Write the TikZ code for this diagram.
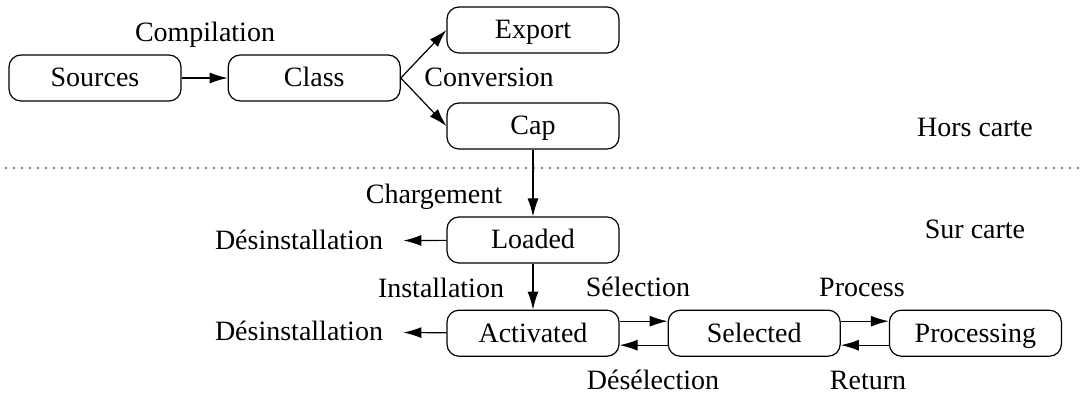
\documentclass[tikz,border=0pt]{standalone}
\usepackage{fontspec}
\setmainfont{Liberation Serif}
\usetikzlibrary{positioning,calc,arrows.meta}
\tikzset{etat/.style={draw, line width=0.6pt, rounded corners=6pt, minimum width=86pt, minimum height=23pt, inner sep=0pt, text height=9.5pt, text depth=0.5pt, font=\fontsize{14}{16}\selectfont}}
\tikzset{lbl/.style={inner sep=0pt, text height=9.5pt, text depth=0.5pt, font=\fontsize{14}{16}\selectfont}}
\tikzset{arr/.style={draw, line width=0.6pt, -{Latex[length=9pt,width=5.5pt]}}}
\tikzset{arrd/.style={arr, shorten >=10pt}}
\begin{document}
\begin{tikzpicture}[x=0.5pt,y=-0.5pt]
	\useasboundingbox (0,0) rectangle (1083,405);
	% hors carte
	\node[etat] (S) at (95,78) {Sources};
	\node[etat,right=23pt of S] (C) {Class};
	\node[etat] (E) at (533,30) {Export};
	\node[etat] (Cap) at (533,126) {Cap};
	\draw[arr] (S) -- (C);
	\draw[arr] (C.east) -- (E.west);
	\draw[arr] (C.east) -- (Cap.west);
	\node[lbl] (comp) at (205,33) {Compilation};
	\node[lbl] (conv) at (489,78) {Conversion};
	\node[lbl] (hors) at (975,128) {Hors carte};
	%
	\coordinate (sepA) at (5,168);
	\coordinate (sepB) at (1080,168);
	\draw[gray, line width=0.8pt, dash pattern=on 0.8pt off 3.2pt] (sepA) -- (sepB);
	% sur carte
	\node[lbl] (sur) at (975,230) {Sur carte};
	\node[etat] (L) at (533,240) {Loaded};
	\node[etat,below=23pt of L] (A) {Activated};
	\node[etat,right=24pt of A] (Sel) {Selected};
	\node[etat,right=24pt of Sel] (P) {Processing};
	\draw[arr] (Cap) -- (L);
	\draw[arr] (L) -- (A);
	\node[lbl] (charg) at (434,195) {Chargement};
	\node[lbl] (inst) at (441,289) {Installation};
	\node[lbl] (des1) at (299,241) {Désinstallation};
	\node[lbl] (des2) at (299,332) {Désinstallation};
	\draw[arrd] (L) -- (des1);
	\draw[arrd] (A) -- (des2);
	%
	\draw[arr] ([yshift=6pt]A.east) -- ([yshift=6pt]Sel.west);
	\draw[arr] ([yshift=-6pt]Sel.west) -- ([yshift=-6pt]A.east);
	\draw[arr] ([yshift=6pt]Sel.east) -- ([yshift=6pt]P.west);
	\draw[arr] ([yshift=-6pt]P.west) -- ([yshift=-6pt]Sel.east);
	\node[lbl] (sel) at (638,288) {Sélection};
	\node[lbl] (desel) at (653,381) {Désélection};
	\node[lbl] (proc) at (862,288) {Process};
	\node[lbl] (ret) at (868,381) {Return};
\end{tikzpicture}
\end{document}
